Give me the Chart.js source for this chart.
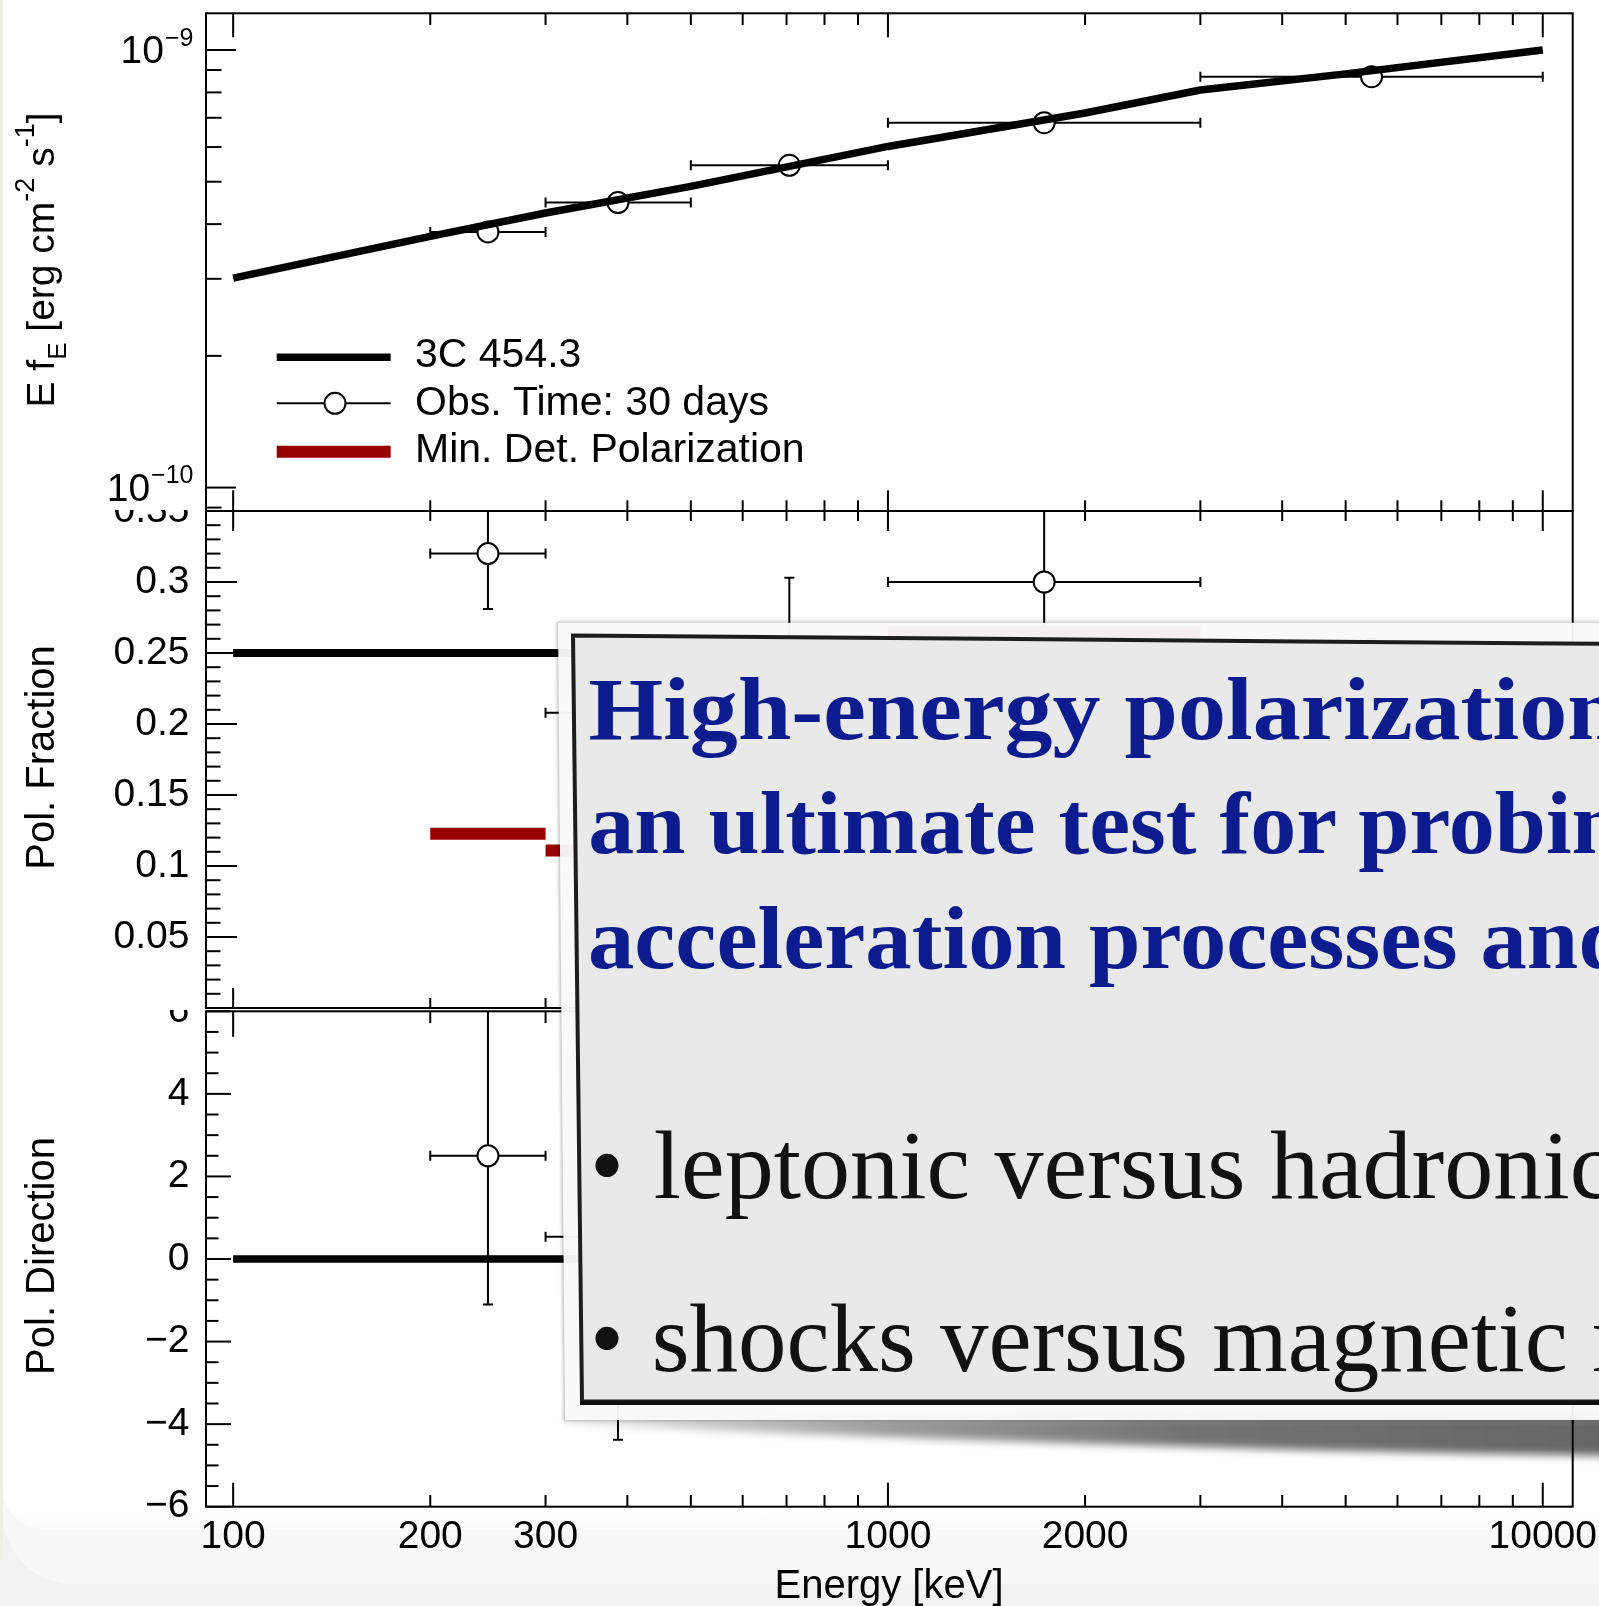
<!DOCTYPE html>
<html lang="en">
<head>
<meta charset="utf-8">
<title>3C 454.3 polarization</title>
<script src="https://cdn.jsdelivr.net/npm/chart.js@4.4.1/dist/chart.umd.min.js"></script>
<style>
  html, body { margin: 0; padding: 0; }
  body { width: 1599px; height: 1606px; overflow: hidden; background: #f2f2f2; }
  #page { position: relative; width: 1599px; height: 1606px; overflow: hidden; }
  .sheet { position: absolute; left: 3px; top: 0; width: 1596px; }
  #sheet-back { height: 1584px; background: #f8f8f8; border-bottom-left-radius: 70px; }
  #sheet-front { height: 1529px; background: linear-gradient(#fff 0, #fff 1505px, #fbfbfb 1529px); border-bottom-left-radius: 40px; }
  #edge { position: absolute; left: 0; top: 0; width: 3px; height: 1560px; background: #efede8; }
  canvas { position: absolute; left: 0; }
  #chart-flux { top: 0; }
  #chart-fraction { top: 510px; }
  #chart-direction { top: 1010px; }
  #callout { position: absolute; left: 0; top: 0; }
</style>
</head>
<body>
<div id="page">
  <div id="sheet-back" class="sheet"></div>
  <div id="sheet-front" class="sheet"></div>
  <div id="edge"></div>
  <canvas id="chart-flux" width="1599" height="512"></canvas>
  <canvas id="chart-fraction" width="1599" height="500"></canvas>
  <canvas id="chart-direction" width="1599" height="596"></canvas>

  <svg id="callout" width="1599" height="1606" viewBox="0 0 1599 1606">
    <defs>
      <filter id="blur-shadow" x="-5%" y="-200%" width="110%" height="500%">
        <feGaussianBlur stdDeviation="4"/>
      </filter>
      <filter id="blur-edge" x="-5%" y="-5%" width="110%" height="110%">
        <feGaussianBlur stdDeviation="1.5"/>
      </filter>
      <linearGradient id="shadow-ramp" gradientUnits="userSpaceOnUse" x1="566" y1="0" x2="1599" y2="0">
        <stop offset="0" stop-color="#000" stop-opacity="0.08"/>
        <stop offset="0.3" stop-color="#000" stop-opacity="0.38"/>
        <stop offset="0.6" stop-color="#000" stop-opacity="0.55"/>
        <stop offset="1" stop-color="#000" stop-opacity="0.6"/>
      </linearGradient>
    </defs>
    <path d="M566 1416 L1620 1416 L1620 1456 C1380 1453 1020 1444 566 1424 Z" fill="url(#shadow-ramp)" filter="url(#blur-shadow)"/>
    <polygon points="556.5,621.5 1620,621.5 1620,1421 563.5,1421" fill="#000" fill-opacity="0.25" filter="url(#blur-edge)"/>
    <polygon points="558,622.7 1620,622.7 1620,1420 565,1420" fill="#fdfdfd" fill-opacity="0.94"/>
    <polygon points="573,635.5 1620,644 1620,1401.5 582,1401.5" fill="#e9e9e9" stroke="#1d1d1d" stroke-width="4"/>
    <line x1="580" y1="1403" x2="1620" y2="1403" stroke="#111" stroke-width="4"/>
    <g font-family="'Liberation Serif', 'Times New Roman', serif">
      <g fill="#0c1c8f" font-weight="bold" font-size="89">
        <text transform="translate(588.5 739) scale(1.079 1)">High-energy polarization is</text>
        <text transform="translate(588.3 853.3) scale(1.034 1)">an ultimate test for probing</text>
        <text transform="translate(588 968.3) scale(1.04 1)">acceleration processes and</text>
      </g>
      <g fill="#111" font-size="97">
        <text x="590" y="1198">•</text>
        <text transform="translate(653.8 1198) scale(1.012 1)">leptonic versus hadronic</text>
        <text x="590" y="1371">•</text>
        <text transform="translate(651.8 1371)">shocks versus magnetic reconnection</text>
      </g>
    </g>
  </svg>
</div>

<script>
const FONT = '"Liberation Sans", Arial, Helvetica, sans-serif';

// energy axis (keV)
const ENERGY_MIN = 90.9;
const ENERGY_MAX = 11110;
const ENERGY_TICKS = [100, 200, 300, 400, 500, 600, 700, 800, 900, 1000, 2000, 3000, 4000, 5000, 6000, 7000, 8000, 9000, 10000];
const ENERGY_LABELS = [100, 200, 300, 1000, 2000, 10000];

// spectral model of 3C 454.3
const modelEnergy = [100, 200, 300, 500, 1000, 2000, 3000, 5000, 10000];
const modelFlux = [3.01e-10, 3.75e-10, 4.24e-10, 4.88e-10, 6.02e-10, 7.18e-10, 8.1e-10, 8.82e-10, 1.0e-9];

// simulated 30 day observation, energy bins
const binLow = [200, 300, 500, 1000, 3000];
const binHigh = [300, 500, 1000, 3000, 10000];
const binCenter = [245, 387, 707, 1732, 5477];
const obsFlux = [3.84e-10, 4.48e-10, 5.45e-10, 6.82e-10, 8.69e-10];

// polarization fraction
const modelRange = [100, 10000];
const modelPolFraction = [0.25, 0.25];
const obsPolFraction = [0.32, 0.208, 0.21, 0.3, 0.2];
const obsPolFractionErr = [0.039, 0.055, 0.093, 0.065, 0.06];
const minDetPolarization = [0.1227, 0.111, 0.16, 0.265, 0.2];

// polarization direction
const modelPolDirection = [0, 0];
const obsPolDirection = [2.5, 0.54, -0.8, 0.3, -0.2];
const obsPolDirectionErr = [3.6, 4.92, 2.4, 1.5, 2.0];

// value axes
const FLUX_RANGE = [8.84e-11, 1.213e-9];
const FLUX_LABEL_EXP = [-10, -9];
const FRACTION_RANGE = [0, 0.35];
const FRACTION_TICKS = [0, 0.05, 0.1, 0.15, 0.2, 0.25, 0.3, 0.35];
const FRACTION_LABELS = ["", "0.05", "0.1", "0.15", "0.2", "0.25", "0.3", "0.35"];
const DIRECTION_RANGE = [-6, 6];
const DIRECTION_TICKS = [-6, -4, -2, 0, 2, 4, 6];
const DIRECTION_LABELS = ["\u22126", "\u22124", "\u22122", "0", "2", "4", "6"];

const LEGEND_LABELS = ["3C 454.3", "Obs. Time: 30 days", "Min. Det. Polarization"];
const FLUX_TITLE = [
  { text: "E f", size: 39 },
  { text: "E", size: 26, shift: 12 },
  { text: " [erg cm", size: 39 },
  { text: "-2", size: 27, shift: -20 },
  { text: " s", size: 39 },
  { text: "-1", size: 27, shift: -20 },
  { text: "]", size: 39 },
];

const MDP_COLOR = "#990000";
const PLOT_LEFT = 206;
const PLOT_RIGHT_PAD = 26.3;
const CAP = 5;

Chart.defaults.font.family = FONT;
Chart.defaults.color = "#000";

function stroke(ctx, x0, y0, x1, y1) {
  ctx.beginPath();
  ctx.moveTo(x0, y0);
  ctx.lineTo(x1, y1);
  ctx.stroke();
}

function toPoints(xs, ys) {
  return xs.map((x, i) => ({ x, y: ys[i] }));
}

// horizontal bars, one per bin, broken between bins
function binSegments(low, high, values) {
  const points = [];
  values.forEach((v, i) => {
    points.push({ x: low[i], y: v }, { x: high[i], y: v }, { x: high[i], y: null });
  });
  return points;
}

function energyTickMarks() {
  return ENERGY_TICKS.map((value) => ({ value, major: [100, 1000, 10000].includes(value) }));
}

function logTickMarks(range) {
  const marks = [];
  for (let e = Math.floor(Math.log10(range[0])); e <= Math.ceil(Math.log10(range[1])); e++) {
    for (let m = 1; m <= 9; m++) {
      const value = m * Math.pow(10, e);
      if (value >= range[0] && value <= range[1]) marks.push({ value, major: m === 1 });
    }
  }
  return marks;
}

function linearTickMarks(range, step, majorEvery) {
  const marks = [];
  const n = Math.round((range[1] - range[0]) / step);
  for (let k = 0; k <= n; k++) {
    marks.push({ value: range[0] + k * step, major: k % majorEvery === 0 });
  }
  return marks;
}

function energyScale(showLabels) {
  return {
    type: "logarithmic",
    min: ENERGY_MIN,
    max: ENERGY_MAX,
    display: showLabels,
    border: { display: false },
    grid: { display: false, drawTicks: false },
    afterBuildTicks: (scale) => {
      scale.ticks = ENERGY_TICKS.map((value) => ({ value }));
    },
    afterFit: (scale) => {
      scale.paddingLeft = 0;
      scale.paddingRight = 0;
      if (showLabels) scale.height = 99.3;
    },
    ticks: {
      autoSkip: false,
      maxRotation: 0,
      minRotation: 0,
      padding: 7,
      color: "#000",
      font: { family: FONT, size: 39 },
      callback: (value) => (ENERGY_LABELS.includes(value) ? String(value) : ""),
    },
  };
}

function valueScale(range, ticks, labels) {
  return {
    type: "linear",
    min: range[0],
    max: range[1],
    border: { display: false },
    grid: { display: false, drawTicks: false },
    afterBuildTicks: (scale) => {
      scale.ticks = ticks.map((value) => ({ value }));
    },
    afterFit: (scale) => {
      scale.width = PLOT_LEFT;
      scale.paddingTop = 0;
      scale.paddingBottom = 0;
    },
    ticks: {
      autoSkip: false,
      padding: 16.5,
      color: "#000",
      font: { family: FONT, size: 39 },
      callback: (value, index) => labels[index],
    },
  };
}

function drawErrorBars(chart, e) {
  const { ctx, chartArea: a } = chart;
  const xs = chart.scales.x;
  const ys = chart.scales.y;
  ctx.save();
  ctx.beginPath();
  ctx.rect(a.left, a.top, a.right - a.left, a.bottom - a.top);
  ctx.clip();
  ctx.strokeStyle = "#000";
  ctx.lineWidth = 2;
  ctx.lineCap = "butt";
  e.center.forEach((c, i) => {
    const px = xs.getPixelForValue(c);
    const py = ys.getPixelForValue(e.value[i]);
    const left = xs.getPixelForValue(e.low[i]);
    const right = xs.getPixelForValue(e.high[i]);
    stroke(ctx, left, py, right, py);
    stroke(ctx, left, py - CAP, left, py + CAP);
    stroke(ctx, right, py - CAP, right, py + CAP);
    if (e.err) {
      const top = ys.getPixelForValue(e.value[i] + e.err[i]);
      const bottom = ys.getPixelForValue(e.value[i] - e.err[i]);
      stroke(ctx, px, top, px, bottom);
      stroke(ctx, px - CAP, top, px + CAP, top);
      stroke(ctx, px - CAP, bottom, px + CAP, bottom);
    }
  });
  ctx.restore();
}

// frame with inward ticks on the left, top and bottom edges
function drawFrame(chart, spec) {
  const { ctx, chartArea: a } = chart;
  const xs = chart.scales.x;
  const ys = chart.scales.y;
  ctx.save();
  ctx.strokeStyle = "#000";
  ctx.lineWidth = 2;
  ctx.lineCap = "butt";
  ctx.strokeRect(a.left, a.top, a.right - a.left, a.bottom - a.top);
  energyTickMarks().forEach((t) => {
    const px = xs.getPixelForValue(t.value);
    stroke(ctx, px, a.top, px, a.top + (t.major ? spec.xTop[0] : spec.xTop[1]));
    stroke(ctx, px, a.bottom, px, a.bottom - (t.major ? spec.xBottom[0] : spec.xBottom[1]));
  });
  spec.yMarks.forEach((t) => {
    const py = ys.getPixelForValue(t.value);
    stroke(ctx, a.left, py, a.left + (t.major ? spec.yLen[0] : spec.yLen[1]), py);
  });
  ctx.restore();
}

function drawRotatedTitle(ctx, parts, cx, cy) {
  ctx.save();
  ctx.translate(cx, cy);
  ctx.rotate(-Math.PI / 2);
  ctx.fillStyle = "#000";
  ctx.textBaseline = "alphabetic";
  ctx.textAlign = "left";
  const widths = parts.map((p) => {
    ctx.font = `${p.size}px ${FONT}`;
    return ctx.measureText(p.text).width;
  });
  let cursor = -widths.reduce((s, w) => s + w, 0) / 2;
  parts.forEach((p, i) => {
    ctx.font = `${p.size}px ${FONT}`;
    ctx.fillText(p.text, cursor, p.shift || 0);
    cursor += widths[i];
  });
  ctx.restore();
}

function drawPowerLabels(chart) {
  const { ctx } = chart;
  const ys = chart.scales.y;
  const right = 193.5;
  ctx.save();
  ctx.fillStyle = "#000";
  ctx.textBaseline = "middle";
  ctx.textAlign = "right";
  FLUX_LABEL_EXP.forEach((exp) => {
    const py = ys.getPixelForValue(Math.pow(10, exp));
    const sup = "\u2212" + Math.abs(exp);
    ctx.font = `25px ${FONT}`;
    const supWidth = ctx.measureText(sup).width;
    ctx.fillText(sup, right, py - 11);
    ctx.font = `39px ${FONT}`;
    ctx.fillText("10", right - supWidth - 1, py + 2.5);
  });
  ctx.restore();
}

function drawLegend(chart) {
  const { ctx } = chart;
  const x0 = 276.7;
  const x1 = 390.7;
  const rows = [357.3, 403.3, 451.7];
  const baselines = [367, 415.3, 462];
  ctx.save();
  ctx.lineCap = "butt";
  ctx.strokeStyle = "#000";
  ctx.lineWidth = 7.5;
  stroke(ctx, x0, rows[0], x1, rows[0]);
  ctx.lineWidth = 2;
  stroke(ctx, x0, rows[1], x1, rows[1]);
  ctx.beginPath();
  ctx.arc(335, rows[1], 10.5, 0, Math.PI * 2);
  ctx.fillStyle = "#fff";
  ctx.fill();
  ctx.stroke();
  ctx.strokeStyle = MDP_COLOR;
  ctx.lineWidth = 12;
  stroke(ctx, x0, rows[2], x1, rows[2]);
  ctx.fillStyle = "#000";
  ctx.font = `41px ${FONT}`;
  ctx.textAlign = "left";
  ctx.textBaseline = "alphabetic";
  LEGEND_LABELS.forEach((label, i) => ctx.fillText(label, 415, baselines[i]));
  ctx.restore();
}

function panelPlugin(spec) {
  return {
    id: "rootPanel",
    beforeDatasetsDraw(chart) {
      if (spec.errors) drawErrorBars(chart, spec.errors);
    },
    afterDatasetsDraw(chart) {
      drawFrame(chart, spec);
      if (spec.extra) spec.extra(chart);
    },
  };
}

function pointDataset(values) {
  return {
    data: toPoints(binCenter, values),
    showLine: false,
    pointStyle: "circle",
    pointRadius: 10.5,
    pointBorderWidth: 2,
    pointBorderColor: "#000",
    pointBackgroundColor: "#fff",
    order: 0,
  };
}

function lineDataset(xs, ys, color, width, order) {
  return {
    data: toPoints(xs, ys),
    borderColor: color,
    borderWidth: width,
    borderCapStyle: "butt",
    pointRadius: 0,
    tension: 0,
    spanGaps: false,
    order,
  };
}

function baseOptions(padding, scales) {
  return {
    responsive: false,
    maintainAspectRatio: false,
    devicePixelRatio: 1,
    animation: false,
    events: [],
    layout: { padding, autoPadding: false },
    plugins: { legend: { display: false }, tooltip: { enabled: false } },
    scales,
  };
}

function renderFluxPanel() {
  const modelLine = lineDataset(modelEnergy, modelFlux, "#000", 7.5, 0);
  const observed = pointDataset(obsFlux);
  observed.order = 1;
  new Chart(document.getElementById("chart-flux"), {
    type: "line",
    data: { datasets: [modelLine, observed] },
    options: baseOptions(
      { left: PLOT_LEFT, right: PLOT_RIGHT_PAD, top: 13.3, bottom: 1 },
      {
        x: energyScale(false),
        y: { type: "logarithmic", min: FLUX_RANGE[0], max: FLUX_RANGE[1], display: false },
      }
    ),
    plugins: [
      panelPlugin({
        xTop: [24, 11.7],
        xBottom: [20.7, 10.7],
        yLen: [30, 15.5],
        yMarks: logTickMarks(FLUX_RANGE),
        errors: { center: binCenter, value: obsFlux, low: binLow, high: binHigh },
        extra: (chart) => {
          drawPowerLabels(chart);
          drawLegend(chart);
          drawRotatedTitle(chart.ctx, FLUX_TITLE, 54, 260);
        },
      }),
    ],
  });
}

function renderFractionPanel() {
  new Chart(document.getElementById("chart-fraction"), {
    type: "line",
    data: {
      datasets: [
        pointDataset(obsPolFraction),
        lineDataset(modelRange, modelPolFraction, "#000", 8, 1),
        {
          data: binSegments(binLow, binHigh, minDetPolarization),
          borderColor: MDP_COLOR,
          borderWidth: 12,
          borderCapStyle: "butt",
          pointRadius: 0,
          spanGaps: false,
          order: 2,
        },
      ],
    },
    options: baseOptions(
      { left: 0, right: PLOT_RIGHT_PAD, top: 1, bottom: 2 },
      {
        x: energyScale(false),
        y: valueScale(FRACTION_RANGE, FRACTION_TICKS, FRACTION_LABELS),
      }
    ),
    plugins: [
      panelPlugin({
        xTop: [20, 10],
        xBottom: [20, 10],
        yLen: [31, 14.5],
        yMarks: linearTickMarks(FRACTION_RANGE, 0.01, 5),
        errors: { center: binCenter, value: obsPolFraction, err: obsPolFractionErr, low: binLow, high: binHigh },
        extra: (chart) => {
          drawRotatedTitle(chart.ctx, [{ text: "Pol. Fraction", size: 40 }], 54, 247.5);
        },
      }),
    ],
  });
}

function renderDirectionPanel() {
  new Chart(document.getElementById("chart-direction"), {
    type: "line",
    data: {
      datasets: [
        pointDataset(obsPolDirection),
        lineDataset(modelRange, modelPolDirection, "#000", 7.5, 1),
      ],
    },
    options: baseOptions(
      { left: 0, right: PLOT_RIGHT_PAD, top: 1.3, bottom: 0 },
      {
        x: energyScale(true),
        y: valueScale(DIRECTION_RANGE, DIRECTION_TICKS, DIRECTION_LABELS),
      }
    ),
    plugins: [
      panelPlugin({
        xTop: [25.5, 11.8],
        xBottom: [24, 11.7],
        yLen: [25, 12.5],
        yMarks: linearTickMarks(DIRECTION_RANGE, 0.5, 4),
        errors: { center: binCenter, value: obsPolDirection, err: obsPolDirectionErr, low: binLow, high: binHigh },
        extra: (chart) => {
          const { ctx } = chart;
          drawRotatedTitle(ctx, [{ text: "Pol. Direction", size: 40 }], 54, 246);
          ctx.save();
          ctx.fillStyle = "#000";
          ctx.font = `40px ${FONT}`;
          ctx.textAlign = "center";
          ctx.textBaseline = "alphabetic";
          ctx.fillText("Energy [keV]", 889, 588);
          ctx.restore();
        },
      }),
    ],
  });
}

document.addEventListener("DOMContentLoaded", () => {
  renderFluxPanel();
  renderFractionPanel();
  renderDirectionPanel();
});
</script>
</body>
</html>
